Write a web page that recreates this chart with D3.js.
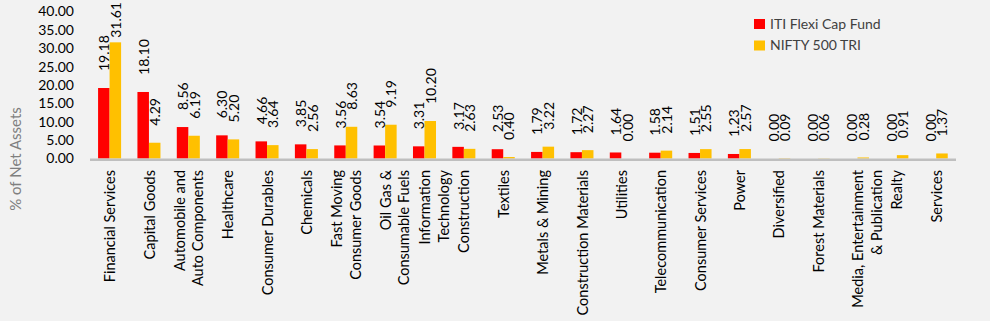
<!DOCTYPE html>
<html><head><meta charset="utf-8">
<script src="https://cdn.jsdelivr.net/npm/d3@7"></script>
<style>body{margin:0;background:#fff}svg{display:block}text{font-family:Lato,"Open Sans",sans-serif}</style>
</head><body><svg id="c" width="999" height="327"></svg>
<script>
const categories = [
  ["Financial Services"],["Capital Goods"],["Automobile and","Auto Components"],["Healthcare"],
  ["Consumer Durables"],["Chemicals"],["Fast Moving","Consumer Goods"],["Oil Gas &","Consumable Fuels"],
  ["Information","Technology"],["Construction"],["Textiles"],["Metals & Mining"],["Construction Materials"],
  ["Utilities"],["Telecommunication"],["Consumer Services"],["Power"],["Diversified"],["Forest Materials"],
  ["Media, Entertainment","& Publication"],["Realty"],["Services"]
];
const seriesNames = ["ITI Flexi Cap Fund","NIFTY 500 TRI"];
const fundValues = [19.18,18.10,8.56,6.30,4.66,3.85,3.56,3.54,3.31,3.17,2.53,1.79,1.72,1.64,1.58,1.51,1.23,0.00,0.00,0.00,0.00,0.00];
const indexValues = [31.61,4.29,6.19,5.20,3.64,2.56,8.63,9.19,10.20,2.63,0.40,3.22,2.27,0.00,2.14,2.55,2.57,0.09,0.06,0.28,0.91,1.37];
const yTicks = [0,5,10,15,20,25,30,35,40];
const colors = ["#FF0000","#FFC000"];

const svg = d3.select("#c");
svg.append("rect").attr("x",0).attr("y",0).attr("width",990).attr("height",321).attr("fill","#F2F2F2");

const ids = categories.map((d,i)=>i);
const x0 = d3.scaleBand().domain(ids).range([90,956]).padding(0);
const bw = x0.bandwidth();
const x1 = d3.scaleBand().domain([0,1]).range([bw*0.205, bw*0.79]).padding(0);
const y = d3.scaleLinear().domain([0,40]).range([158.5,11.5]);

// y tick labels
svg.append("g").selectAll("text").data(yTicks).join("text")
  .attr("x",74).attr("y",d=>y(d)).attr("dy","0.35em").attr("text-anchor","end")
  .attr("font-size",14).attr("fill","#000").text(d=>d.toFixed(2));

// y title
svg.append("text").attr("transform","translate(16,159) rotate(-90)")
  .attr("text-anchor","middle").attr("dy","0.35em").attr("font-size",15).attr("fill","#7F7F7F")
  .text("% of Net Assets");

const data = [fundValues, indexValues];
const g = svg.append("g");
data.forEach((vals,s)=>{
  g.selectAll(null).data(vals).join("rect")
    .attr("x",(d,i)=>x0(i)+x1(s)).attr("width",x1.bandwidth())
    .attr("y",d=>y(d)).attr("height",d=>y(0)-y(d)).attr("fill",colors[s]);
});

// axis line
svg.append("line").attr("x1",90).attr("x2",956).attr("y1",y(0)+1.2).attr("y2",y(0)+1.2)
  .attr("stroke","#BFBFBF").attr("stroke-width",2.6);

// value labels
data.forEach((vals,s)=>{
  g.selectAll(null).data(vals).join("text")
    .attr("font-size",14).attr("fill","#000").attr("text-anchor","start").attr("dominant-baseline","central")
    .text(d=>d.toFixed(2))
    .each(function(d,i){
      const len = this.getComputedTextLength();
      let ay = y(d) - 17;
      if (ay - len < 2) ay = 2 + len;
      const cx = x0(i)+x1(s)+x1.bandwidth()/2;
      d3.select(this).attr("transform",`translate(${cx},${ay}) rotate(-90)`);
    });
});

// category labels (Excel places the first wrapped line on the band centre for some labels)
const firstLineCentred = new Set([7,8,19]);
const lineH = 18.5;
const cg = svg.append("g");
categories.forEach((lines,i)=>{
  const cx = x0(i)+bw/2;
  const n = lines.length;
  lines.forEach((t,k)=>{
    const off = firstLineCentred.has(i) ? k*lineH : (k-(n-1)/2)*lineH;
    cg.append("text").attr("transform",`translate(${cx+off},170) rotate(-90)`)
      .attr("text-anchor","end").attr("dominant-baseline","central").attr("font-size",14.5).attr("fill","#000").text(t);
  });
});

// legend
const lg = svg.append("g");
seriesNames.forEach((n,i)=>{
  lg.append("rect").attr("x",754).attr("y",19+i*21.5).attr("width",11).attr("height",10).attr("fill",colors[i]);
  lg.append("text").attr("x",770).attr("y",24+i*21.5).attr("dy","0.35em").attr("font-size",14).attr("fill","#404040").text(n);
});
</script></body></html>
